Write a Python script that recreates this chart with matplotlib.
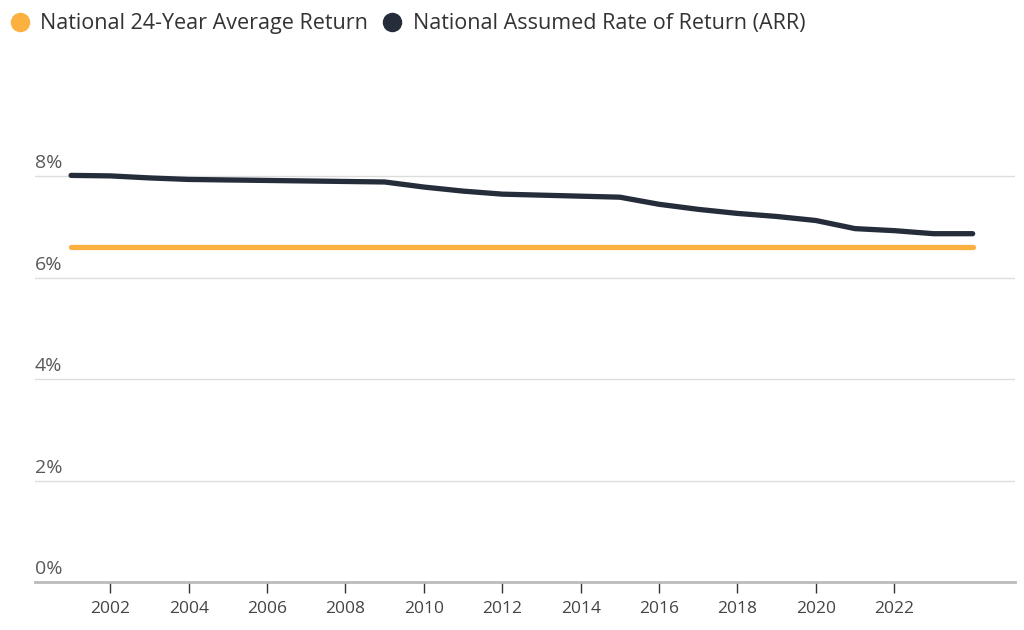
import matplotlib.pyplot as plt
from matplotlib.lines import Line2D
import numpy as np

plt.rcParams['font.family'] = ['Open Sans', 'DejaVu Sans']

years = np.arange(2001, 2025)
arr = [8.02, 8.01, 7.97, 7.94, 7.93, 7.92, 7.91, 7.90, 7.89, 7.79, 7.71, 7.65,
       7.63, 7.61, 7.59, 7.45, 7.35, 7.27, 7.21, 7.13, 6.97, 6.93, 6.87, 6.87]
avg_return = 6.61
avg_years = [2001, 2024]

yticks = [0, 2, 4, 6, 8]
xticks = list(range(2002, 2023, 2))

orange = '#FBB040'
navy = '#252D3A'

fig = plt.figure(figsize=(10.24, 6.3), dpi=100)
ax = fig.add_axes([35/1024, 48/630, 980/1024, 507/630])

ax.plot(avg_years, [avg_return, avg_return], color=orange, linewidth=3.8,
        solid_capstyle='round', zorder=3)
ax.plot(years, arr, color=navy, linewidth=3.8, solid_capstyle='round',
        solid_joinstyle='round', zorder=4)

ax.set_xlim(2000.08, 2025.08)
ax.set_ylim(0, 10)

# gridlines + labels above the lines
for v in yticks[1:]:
    ax.axhline(v, color='#dddddd', linewidth=1, zorder=1)
for v in yticks:
    ax.text(0, v + 0.08, f'{v}%', transform=ax.get_yaxis_transform(),
            ha='left', va='bottom', fontsize=14, color='#595959')
ax.set_yticks([])

for s in ['top', 'right', 'left']:
    ax.spines[s].set_visible(False)
ax.spines['bottom'].set_color('#bbbbbb')
ax.spines['bottom'].set_linewidth(2)

ax.set_xticks(xticks)
ax.set_xticklabels([str(x) for x in xticks], fontsize=12.5, color='#444444')
ax.tick_params(axis='x', length=8, width=1, color='#333333', pad=6)

# legend
items = [(20, 40, orange, 'National 24-Year Average Return'),
         (392, 413, navy, 'National Assumed Rate of Return (ARR)')]
for mx, tx, c, label in items:
    fig.add_artist(Line2D([mx/1024], [1 - 22/630], marker='o', markersize=13,
                          color=c, linestyle='none', transform=fig.transFigure))
    fig.text(tx/1024, 1 - 23/630, label, ha='left', va='center', fontsize=15.5,
             color='#333333')

fig.savefig('out.png', dpi=100)
